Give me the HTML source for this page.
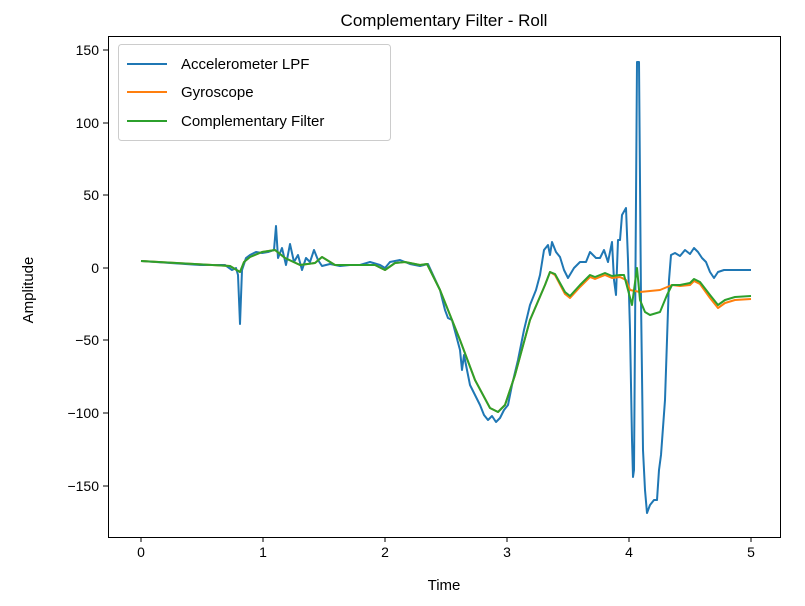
<!DOCTYPE html>
<html><head><meta charset="utf-8"><style>body{margin:0;background:#fff}svg{display:block}text{font-family:"Liberation Sans","DejaVu Sans",sans-serif;fill:#000}</style></head><body>
<svg width="805" height="606" xmlns="http://www.w3.org/2000/svg">
<rect width="805" height="606" fill="#fff"/>
<text x="444" y="26" font-size="17" text-anchor="middle">Complementary Filter - Roll</text>
<g stroke="#000" stroke-width="1">
<line x1="141" y1="537" x2="141" y2="542"/><line x1="263" y1="537" x2="263" y2="542"/><line x1="385" y1="537" x2="385" y2="542"/><line x1="507" y1="537" x2="507" y2="542"/><line x1="629" y1="537" x2="629" y2="542"/><line x1="751" y1="537" x2="751" y2="542"/>
<line x1="103" y1="50" x2="108" y2="50"/><line x1="103" y1="123" x2="108" y2="123"/><line x1="103" y1="195" x2="108" y2="195"/><line x1="103" y1="268" x2="108" y2="268"/><line x1="103" y1="340" x2="108" y2="340"/><line x1="103" y1="413" x2="108" y2="413"/><line x1="103" y1="486" x2="108" y2="486"/>
</g>
<g font-size="14" text-anchor="middle">
<text x="141" y="557">0</text><text x="263" y="557">1</text><text x="385" y="557">2</text><text x="507" y="557">3</text><text x="629" y="557">4</text><text x="751" y="557">5</text>
</g>
<g font-size="14" text-anchor="end">
<text x="99" y="55">150</text><text x="99" y="128">100</text><text x="99" y="200">50</text><text x="99" y="273">0</text><text x="99" y="345">−50</text><text x="99" y="418">−100</text><text x="99" y="491">−150</text>
</g>
<text x="444" y="590" font-size="15" text-anchor="middle">Time</text>
<text x="33" y="290" font-size="15" text-anchor="middle" transform="rotate(-90 33 290)">Amplitude</text>
<g fill="none" stroke-width="2" stroke-linejoin="round">
<polyline stroke="#1f77b4" points="141,261 200,265 225,265 232,270 236,268 238,275 240,324 242,270 246,258 250,255 256,252 262,253 268,252 274,250 276,226 278,258 282,248 286,265 290,244 294,262 298,255 302,270 306,258 310,262 314,250 318,260 322,266 330,264 340,266 350,265 360,265 370,262 380,265 385,268 390,262 400,260 410,264 420,266 428,264 440,290 445,310 448,318 452,320 456,335 460,350 462,370 464,355 467,370 470,385 475,395 480,405 484,415 488,420 492,416 496,422 500,418 504,410 508,405 512,385 518,360 524,330 530,305 536,290 540,275 544,250 548,245 550,255 552,242 556,252 560,257 564,270 568,278 574,268 580,262 586,262 590,252 596,258 600,258 604,250 608,262 612,242 614,280 616,295 618,240 620,240 622,215 626,208 628,260 630,330 632,440 633,477 634,470 636,200 637,62 639,62 641,300 643,450 645,490 647,513 650,505 654,500 657,500 659,470 661,455 665,400 667,340 669,280 671,255 675,253 680,256 685,250 690,254 694,248 698,252 702,258 706,262 710,272 714,278 718,272 724,270 740,270 751,270"/>
<polyline stroke="#ff7f0e" points="141,261 230,266 240,272 244,262 250,257 262,252 275,250 285,258 300,265 315,263 322,257 335,265 360,265 375,265 385,270 395,263 405,262 420,265 427,264 440,290 460,340 475,380 490,408 498,412 505,405 515,375 530,320 545,285 550,272 555,275 565,294 570,298 580,287 590,277 595,279 605,275 612,278 620,277 626,280 630,290 640,292 660,290 672,285 680,286 690,285 694,281 700,284 710,298 718,308 725,303 735,300 751,299"/>
<polyline stroke="#2ca02c" points="141,261 230,266 240,272 244,262 250,257 262,252 275,250 285,258 300,265 315,263 322,257 335,265 360,265 375,265 385,270 395,263 405,262 420,265 427,264 440,290 460,340 475,380 490,408 498,412 505,405 515,375 530,320 545,285 550,272 555,274 565,292 570,296 580,285 590,275 595,277 605,273 612,276 620,275 624,275 628,290 632,305 634,290 637,268 640,300 645,312 650,315 660,312 667,295 672,285 680,285 690,283 694,279 700,282 710,295 718,305 725,300 735,297 751,296"/>
</g>
<rect x="108.5" y="36.5" width="672" height="501" fill="none" stroke="#000" stroke-width="1"/>
<rect x="118.5" y="44.5" width="272" height="96" rx="3" fill="#fff" fill-opacity="0.8" stroke="#ccc"/>
<g stroke-width="2"><line x1="127" y1="64" x2="167" y2="64" stroke="#1f77b4"/><line x1="127" y1="92" x2="167" y2="92" stroke="#ff7f0e"/><line x1="127" y1="121" x2="167" y2="121" stroke="#2ca02c"/></g>
<g font-size="15"><text x="181" y="69">Accelerometer LPF</text><text x="181" y="97">Gyroscope</text><text x="181" y="126">Complementary Filter</text></g>
</svg>
</body></html>
